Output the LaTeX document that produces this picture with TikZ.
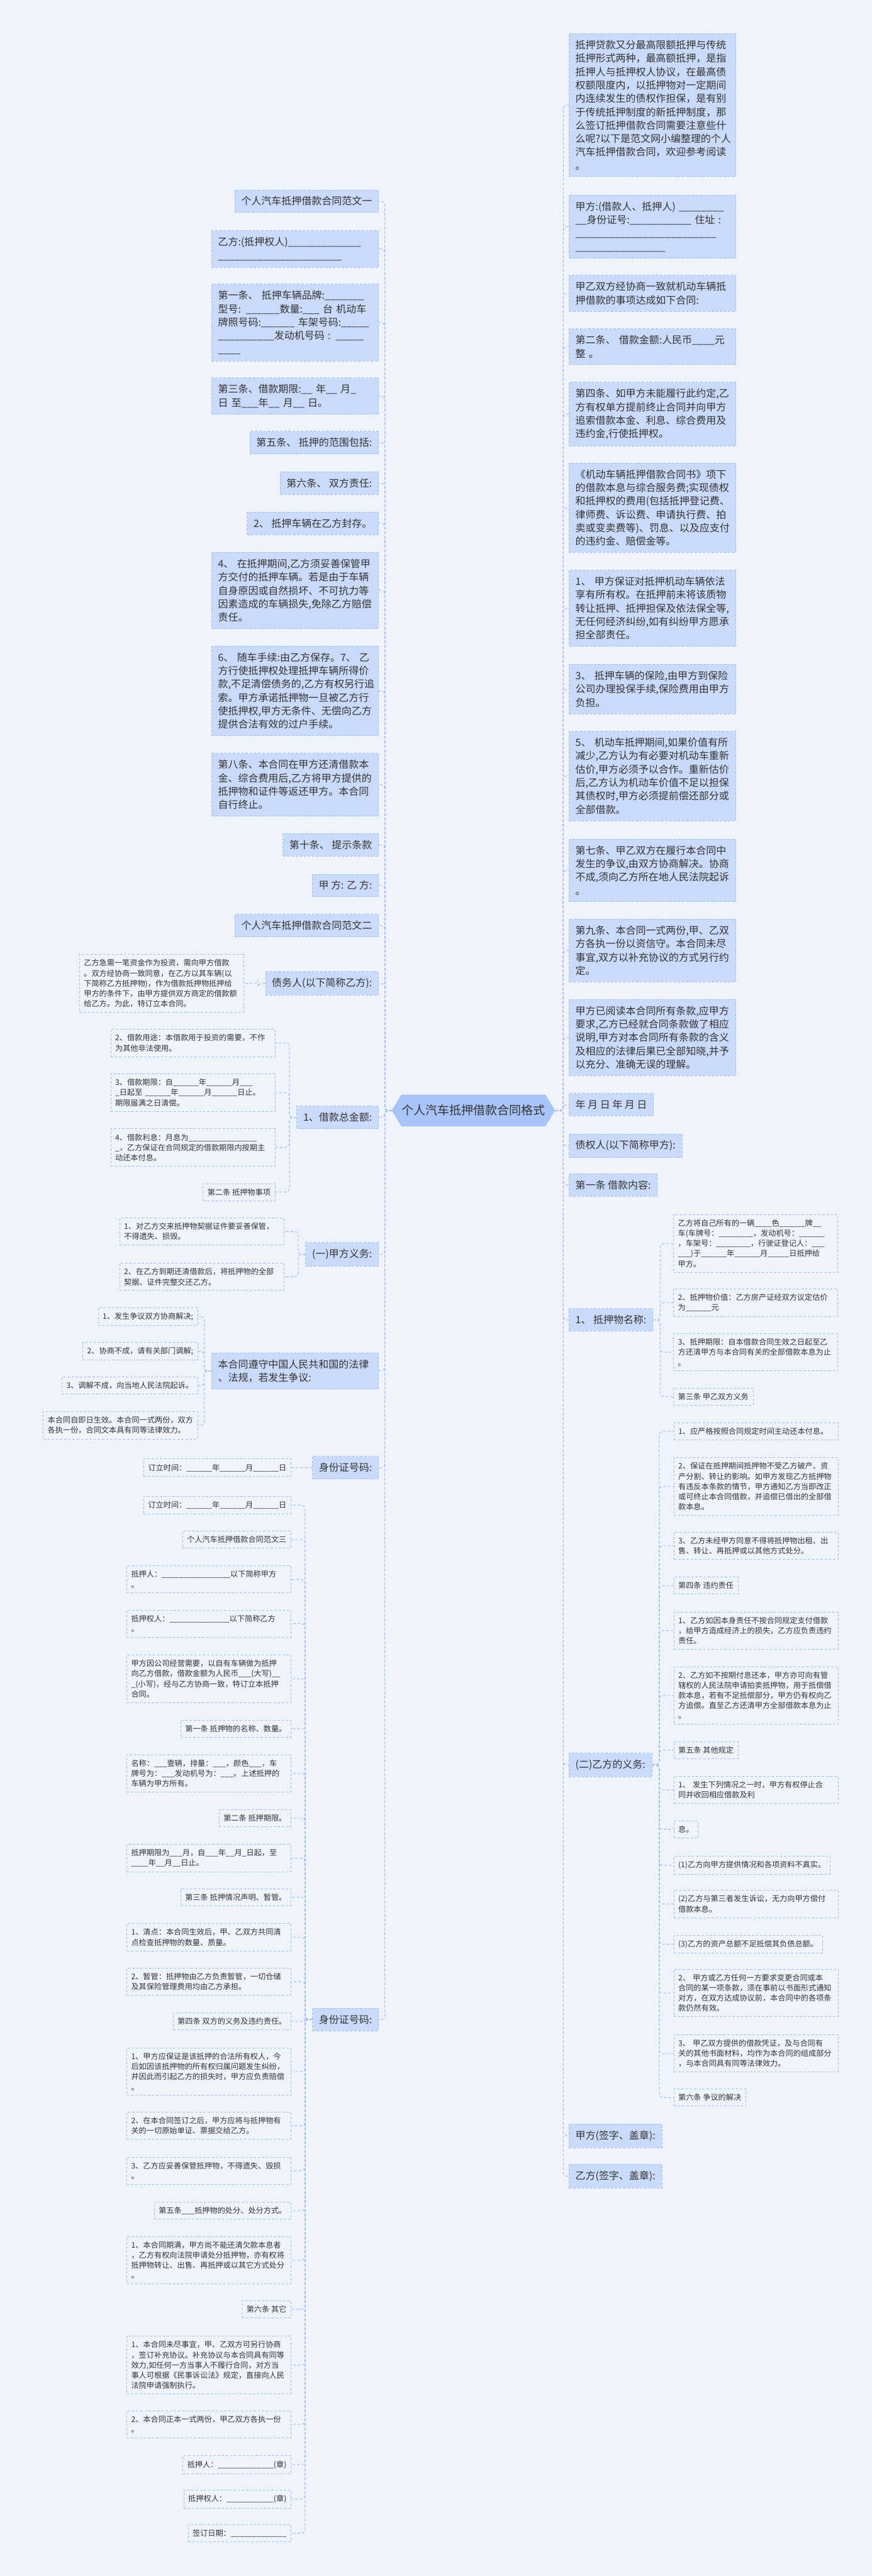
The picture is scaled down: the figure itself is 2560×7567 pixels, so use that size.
\documentclass[tikz,border=0pt]{standalone}
\usepackage{fontspec}
\setmainfont{Noto Sans CJK SC}
\usepackage{xcolor}
\usetikzlibrary{positioning,shapes.symbols}

\definecolor{pagebg}{HTML}{EEF3FC}
\definecolor{topicfill}{HTML}{CADAFA}
\definecolor{rootfill}{HTML}{A9C4F8}
\definecolor{edgeblue}{HTML}{A4BCF0}
\definecolor{ink}{HTML}{333333}

\newcommand{\fsroot}{\fontsize{10pt}{12pt}\selectfont}
\newcommand{\fsbig}{\fontsize{8.4pt}{11.2pt}\selectfont}
\newcommand{\fssmall}{\fontsize{6.4pt}{8.5pt}\selectfont}
\newcommand{\blank}[1]{\foreach \k in {1,...,#1}{\_}}

\begin{document}
\begin{tikzpicture}[x=0.1mm,y=-0.1mm]
	\tikzstyle{topic}
	  =[draw=edgeblue, dash pattern=on 2pt off 1.5pt, line width=0.4pt,
	  fill=topicfill, text=ink, font=\fsbig, inner xsep=1.9mm,
	  inner ysep=1.95mm, align=left]
	\tikzstyle{topicwide}
	  =[topic, text width=45.2mm]

	\tikzstyle{leaf}
	  =[draw=edgeblue, dash pattern=on 2pt off 1.5pt, line width=0.4pt,
	  text=ink, font=\fssmall, inner xsep=1.3mm, inner ysep=1.45mm,
	  align=left]
	\tikzstyle{leafwide}
	  =[leaf, text width=45.6mm]

	\tikzstyle{rootbox}
	  =[shape=signal, signal to=west and east, signal pointer angle=118,
	  fill=rootfill, draw=edgeblue, text=ink, font=\fsroot,
	  inner xsep=0pt, inner ysep=2.95mm]
	\tikzstyle{branch}
	  =[draw=edgeblue, dash pattern=on 2.2pt off 1.6pt, line width=0.55pt,
	  rounded corners=1mm]

	\fill[pagebg] (0,0) rectangle (2560,7567);
	\useasboundingbox (0,0) rectangle (2560,7567);

	\node[rootbox] (root)
	  at (1390,3262) {个人汽车抵押借款合同格式};

	% left side
	\node[topic, anchor=north east] (L1)
	  at (1112,557) {个人汽车抵押借款合同范文一};
	\node[topicwide, anchor=north east] (L2)
	  at (1112,677) {乙方:(抵押权人)\blank{13}\\\blank{22}};
	\node[topicwide, anchor=north east] (L3)
	  at (1112,834) {第一条、 抵押车辆品牌:\blank{7}\\型号: \blank{6}数量:\blank{3} 台 机动车\\牌照号码:\blank{6} 车架号码:\blank{5}\\\blank{10}发动机号码 : \blank{5}\\\blank{4}};
	\node[topicwide, anchor=north east] (L4)
	  at (1112,1109) {第三条、借款期限:\blank{2} 年\blank{2} 月\blank{1}\\日 至\blank{3}年\blank{2} 月\blank{2} 日。};
	\node[topic, anchor=north east] (L5)
	  at (1112,1266) {第五条、 抵押的范围包括:};
	\node[topic, anchor=north east] (L6)
	  at (1112,1385) {第六条、 双方责任:};
	\node[topic, anchor=north east] (L7)
	  at (1112,1503) {2、  抵押车辆在乙方封存。};
	\node[topicwide, anchor=north east] (L8)
	  at (1112,1622) {4、 在抵押期间,乙方须妥善保管甲\\方交付的抵押车辆。若是由于车辆\\自身原因或自然损坏、不可抗力等\\因素造成的车辆损失,免除乙方赔偿\\责任。};
	\node[topicwide, anchor=north east] (L9)
	  at (1112,1897) {6、 随车手续:由乙方保存。7、 乙\\方行使抵押权处理抵押车辆所得价\\款,不足清偿债务的,乙方有权另行追\\索。甲方承诺抵押物一旦被乙方行\\使抵押权,甲方无条件、无偿向乙方\\提供合法有效的过户手续。};
	\node[topicwide, anchor=north east] (L10)
	  at (1112,2212) {第八条、本合同在甲方还清借款本\\金、综合费用后,乙方将甲方提供的\\抵押物和证件等返还甲方。本合同\\自行终止。};
	\node[topic, anchor=north east] (L11)
	  at (1112,2448) {第十条、 提示条款};
	\node[topic, anchor=north east] (L12)
	  at (1112,2567) {甲 方: 乙 方:};
	\node[topic, anchor=north east] (L13)
	  at (1112,2685) {个人汽车抵押借款合同范文二};
	\node[topic, anchor=north east] (L14)
	  at (1112,2853) {债务人(以下简称乙方):};
	\node[topic, anchor=north east] (L15)
	  at (1112,3248) {1、借款总金额:};
	\node[topic, anchor=north east] (L16)
	  at (1112,3649) {(一)甲方义务:};
	\node[topicwide, anchor=north east] (L17)
	  at (1112,3973) {本合同遵守中国人民共和国的法律\\、法规，若发生争议:};
	\node[topic, anchor=north east] (L18)
	  at (1112,4277) {身份证号码:};
	\node[topic, anchor=north east] (L19)
	  at (1112,5898) {身份证号码:};

	\node[leafwide, anchor=north east] (L14a)
	  at (716,2803) {乙方急需一笔资金作为投资，需向甲方借款\\。双方经协商一致同意，在乙方以其车辆(以\\下简称乙方抵押物)，作为借款抵押物抵押给\\甲方的条件下，由甲方提供双方商定的借款额\\给乙方。为此，特订立本合同。};

	\node[leafwide, anchor=north east] (L15a)
	  at (808,3023) {2、借款用途：本借款用于投资的需要，不作\\为其他非法使用。};
	\node[leafwide, anchor=north east] (L15b)
	  at (808,3154) {3、借款期限：自\blank{6}年\blank{6}月\blank{3}\\\blank{1}日起至 \blank{6}年\blank{6}月\blank{6}日止。\\期限届满之日清偿。};
	\node[leafwide, anchor=north east] (L15c)
	  at (808,3315) {4、借款利息：月息为\blank{16}\\\blank{1}，乙方保证在合同规定的借款期限内按期主\\动还本付息。};
	\node[leaf, anchor=north east] (L15d)
	  at (808,3476) {第二条 抵押物事项};

	\node[leafwide, anchor=north east] (L16a)
	  at (834,3577) {1、对乙方交来抵押物契据证件要妥善保管，\\不得遗失、损毁。};
	\node[leafwide, anchor=north east] (L16b)
	  at (834,3710) {2、在乙方到期还清借款后，将抵押物的全部\\契据、证件完整交还乙方。};

	\node[leaf, anchor=north east] (L17a)
	  at (581,3840) {1、发生争议双方协商解决;};
	\node[leaf, anchor=north east] (L17b)
	  at (581,3942) {2、协商不成，请有关部门调解;};
	\node[leaf, anchor=north east] (L17c)
	  at (581,4044) {3、调解不成，向当地人民法院起诉。};
	\node[leaf, anchor=north east] (L17d)
	  at (581,4146) {本合同自即日生效。本合同一式两份，双方\\各执一份，合同文本具有同等法律效力。};

	\node[leaf, anchor=north east] (L18a)
	  at (855,4285) {订立时间：\blank{6}年\blank{6}月\blank{6}日};

	\node[leaf, anchor=north east] (L19a)
	  at (855,4395) {订立时间：\blank{6}年\blank{6}月\blank{6}日};
	\node[leaf, anchor=north east] (L19b)
	  at (855,4497) {个人汽车抵押借款合同范文三};
	\node[leafwide, anchor=north east] (L19c)
	  at (855,4599) {抵押人：\blank{16}以下简称甲方\\。};
	\node[leafwide, anchor=north east] (L19d)
	  at (855,4729) {抵押权人：\blank{14}以下简称乙方\\。};
	\node[leafwide, anchor=north east] (L19e)
	  at (855,4861) {甲方因公司经营需要，以自有车辆做为抵押\\向乙方借款，借款金额为人民币\blank{3}(大写)\blank{2}\\\blank{1}(小写)，经与乙方协商一致，特订立本抵押\\合同。};
	\node[leaf, anchor=north east] (L19f)
	  at (855,5052) {第一条 抵押物的名称、数量。};
	\node[leafwide, anchor=north east] (L19g)
	  at (855,5154) {名称：\blank{3}壹辆，排量：\blank{3}，颜色\blank{3}，车\\牌号为：\blank{3}发动机号为：\blank{3}。上述抵押的\\车辆为甲方所有。};
	\node[leaf, anchor=north east] (L19h)
	  at (855,5315) {第二条 抵押期限。};
	\node[leafwide, anchor=north east] (L19i)
	  at (855,5417) {抵押期限为\blank{3}月，自\blank{3}年\blank{2}月\blank{1}日起，至\\\blank{4}年\blank{2}月\blank{2}日止。};
	\node[leaf, anchor=north east] (L19j)
	  at (855,5547) {第三条 抵押情况声明、暂管。};
	\node[leafwide, anchor=north east] (L19k)
	  at (855,5650) {1、清点：本合同生效后，甲、乙双方共同清\\点检查抵押物的数量、质量。};
	\node[leafwide, anchor=north east] (L19l)
	  at (855,5781) {2、暂管：抵押物由乙方负责暂管，一切仓储\\及其保险管理费用均由乙方承担。};
	\node[leaf, anchor=north east] (L19m)
	  at (855,5912) {第四条 双方的义务及违约责任。};
	\node[leafwide, anchor=north east] (L19n)
	  at (855,6015) {1、甲方应保证是该抵押的合法所有权人，今\\后如因该抵押物的所有权归属问题发生纠纷，\\并因此而引起乙方的损失时，甲方应负责赔偿\\。};
	\node[leafwide, anchor=north east] (L19o)
	  at (855,6204) {2、在本合同签订之后，甲方应将与抵押物有\\关的一切原始单证、票据交给乙方。};
	\node[leafwide, anchor=north east] (L19p)
	  at (855,6336) {3、乙方应妥善保管抵押物，不得遗失、毁损\\。};
	\node[leaf, anchor=north east] (L19q)
	  at (855,6467) {第五条\blank{3}抵押物的处分、处分方式。};
	\node[leafwide, anchor=north east] (L19r)
	  at (855,6569) {1、本合同期满，甲方尚不能还清欠款本息者\\，乙方有权向法院申请处分抵押物，亦有权将\\抵押物转让、出售、再抵押或以其它方式处分\\。};
	\node[leaf, anchor=north east] (L19s)
	  at (855,6758) {第六条 其它};
	\node[leafwide, anchor=north east] (L19t)
	  at (855,6862) {1、本合同未尽事宜，甲、乙双方可另行协商\\，签订补充协议。补充协议与本合同具有同等\\效力,如任何一方当事人不履行合同，对方当\\事人可根据《民事诉讼法》规定，直接向人民\\法院申请强制执行。};
	\node[leafwide, anchor=north east] (L19u)
	  at (855,7081) {2、本合同正本一式两份，甲乙双方各执一份\\。};
	\node[leaf, anchor=north east] (L19v)
	  at (855,7213) {抵押人：\blank{13}(章)};
	\node[leaf, anchor=north east] (L19w)
	  at (855,7314) {抵押权人：\blank{11}(章)};
	\node[leaf, anchor=north east] (L19x)
	  at (855,7415) {签订日期：\blank{13}};

	% right side
	\node[topicwide, anchor=north west] (R1)
	  at (1670,98) {抵押贷款又分最高限额抵押与传统\\抵押形式两种，最高额抵押，是指\\抵押人与抵押权人协议，在最高债\\权额限度内，以抵押物对一定期间\\内连续发生的债权作担保，是有别\\于传统抵押制度的新抵押制度，那\\么签订抵押借款合同需要注意些什\\么呢?以下是范文网小编整理的个人\\汽车抵押借款合同，欢迎参考阅读\\。};
	\node[topicwide, anchor=north west] (R2)
	  at (1670,572) {甲方:(借款人、抵押人) \blank{8}\\\blank{2}身份证号:\blank{11} 住址 :\\\blank{25}\\\blank{16}};
	\node[topicwide, anchor=north west] (R3)
	  at (1670,808) {甲乙双方经协商一致就机动车辆抵\\押借款的事项达成如下合同:};
	\node[topicwide, anchor=north west] (R4)
	  at (1670,965) {第二条、 借款金额:人民币\blank{4}元\\整 。};
	\node[topicwide, anchor=north west] (R5)
	  at (1670,1122) {第四条、如甲方未能履行此约定,乙\\方有权单方提前终止合同并向甲方\\追索借款本金、利息、综合费用及\\违约金,行使抵押权。};
	\node[topicwide, anchor=north west] (R6)
	  at (1670,1359) {《机动车辆抵押借款合同书》项下\\的借款本息与综合服务费;实现债权\\和抵押权的费用(包括抵押登记费、\\律师费、诉讼费、申请执行费、拍\\卖或变卖费等)、罚息、以及应支付\\的违约金、赔偿金等。};
	\node[topicwide, anchor=north west] (R7)
	  at (1670,1674) {1、 甲方保证对抵押机动车辆依法\\享有所有权。在抵押前未将该质物\\转让抵押、抵押担保及依法保全等,\\无任何经济纠纷,如有纠纷甲方愿承\\担全部责任。};
	\node[topicwide, anchor=north west] (R8)
	  at (1670,1951) {3、 抵押车辆的保险,由甲方到保险\\公司办理投保手续,保险费用由甲方\\负担。};
	\node[topicwide, anchor=north west] (R9)
	  at (1670,2147) {5、 机动车抵押期间,如果价值有所\\减少,乙方认为有必要对机动车重新\\估价,甲方必须予以合作。重新估价\\后,乙方认为机动车价值不足以担保\\其债权时,甲方必须提前偿还部分或\\全部借款。};
	\node[topicwide, anchor=north west] (R10)
	  at (1670,2464) {第七条、甲乙双方在履行本合同中\\发生的争议,由双方协商解决。协商\\不成,须向乙方所在地人民法院起诉\\。};
	\node[topicwide, anchor=north west] (R11)
	  at (1670,2699) {第九条、本合同一式两份,甲、乙双\\方各执一份以资信守。本合同未尽\\事宜,双方以补充协议的方式另行约\\定。};
	\node[topicwide, anchor=north west] (R12)
	  at (1670,2935) {甲方已阅读本合同所有条款,应甲方\\要求,乙方已经就合同条款做了相应\\说明,甲方对本合同所有条款的含义\\及相应的法律后果已全部知晓,并予\\以充分、准确无误的理解。};
	\node[topic, anchor=north west] (R13)
	  at (1670,3211) {年 月 日 年 月 日};
	\node[topic, anchor=north west] (R14)
	  at (1670,3330) {债权人(以下简称甲方):};
	\node[topic, anchor=north west] (R15)
	  at (1670,3447) {第一条 借款内容:};
	\node[topic, anchor=north west] (R16)
	  at (1670,3843) {1、 抵押物名称:};
	\node[topic, anchor=north west] (R17)
	  at (1670,5149) {(二)乙方的义务:};
	\node[topic, anchor=north west] (R18)
	  at (1670,6238) {甲方(签字、盖章):};
	\node[topic, anchor=north west] (R19)
	  at (1670,6357) {乙方(签字、盖章):};

	\node[leafwide, anchor=north west] (R16a)
	  at (1977,3567) {乙方将自己所有的一辆\blank{4}色\blank{6}牌\blank{2}\\车(车牌号：\blank{8}，发动机号：\blank{6}\\，车架号：\blank{8}，行驶证登记人：\blank{3}\\\blank{3})于\blank{6}年\blank{6}月\blank{5}日抵押给\\甲方。};
	\node[leafwide, anchor=north west] (R16b)
	  at (1977,3785) {2、抵押物价值：乙方房产证经双方议定估价\\为\blank{6}元};
	\node[leafwide, anchor=north west] (R16c)
	  at (1977,3917) {3、抵押期限：自本借款合同生效之日起至乙\\方还清甲方与本合同有关的全部借款本息为止\\。};
	\node[leaf, anchor=north west] (R16d)
	  at (1977,4077) {第三条 甲乙双方义务};

	\node[leafwide, anchor=north west] (R17a)
	  at (1978,4179) {1、应严格按照合同规定时间主动还本付息。};
	\node[leafwide, anchor=north west] (R17b)
	  at (1978,4281) {2、保证在抵押期间抵押物不受乙方破产、资\\产分割、转让的影响。如甲方发现乙方抵押物\\有违反本条款的情节，甲方通知乙方当即改正\\或可终止本合同借款，并追偿已借出的全部借\\款本息。};
	\node[leafwide, anchor=north west] (R17c)
	  at (1978,4500) {3、乙方未经甲方同意不得将抵押物出租、出\\售、转让、再抵押或以其他方式处分。};
	\node[leaf, anchor=north west] (R17d)
	  at (1978,4632) {第四条 违约责任};
	\node[leafwide, anchor=north west] (R17e)
	  at (1978,4734) {1、乙方如因本身责任不按合同规定支付借款\\，给甲方造成经济上的损失，乙方应负责违约\\责任。};
	\node[leafwide, anchor=north west] (R17f)
	  at (1978,4895) {2、乙方如不按期付息还本，甲方亦可向有管\\辖权的人民法院申请拍卖抵押物，用于抵偿借\\款本息，若有不足抵偿部分，甲方仍有权向乙\\方追偿。直至乙方还清甲方全部借款本息为止\\。};
	\node[leaf, anchor=north west] (R17g)
	  at (1978,5115) {第五条 其他规定};
	\node[leafwide, anchor=north west] (R17h)
	  at (1978,5217) {1、 发生下列情况之一时，甲方有权停止合\\同并收回相应借款及利};
	\node[leaf, anchor=north west] (R17i)
	  at (1978,5348) {息。};
	\node[leaf, anchor=north west] (R17j)
	  at (1978,5452) {(1)乙方向甲方提供情况和各项资料不真实。};
	\node[leafwide, anchor=north west] (R17k)
	  at (1978,5552) {(2)乙方与第三者发生诉讼，无力向甲方偿付\\借款本息。};
	\node[leaf, anchor=north west] (R17l)
	  at (1978,5684) {(3)乙方的资产总额不足抵偿其负债总额。};
	\node[leafwide, anchor=north west] (R17m)
	  at (1978,5784) {2、 甲方或乙方任何一方要求变更合同或本\\合同的某一项条款，须在事前以书面形式通知\\对方，在双方达成协议前，本合同中的各项条\\款仍然有效。};
	\node[leafwide, anchor=north west] (R17n)
	  at (1978,5976) {3、 甲乙双方提供的借款凭证，及与合同有\\关的其他书面材料，均作为本合同的组成部分\\，与本合同具有同等法律效力。};
	\node[leaf, anchor=north west] (R17o)
	  at (1978,6136) {第六条 争议的解决};

	% connectors
	\foreach \i in {1,...,19}
	  \draw[branch] (root.west) -- ++(-21,0) |- (L\i.east);
	\foreach \i in {1,...,19}
	  \draw[branch] (root.east) -- ++(25,0) |- (R\i.west);

	\draw[branch] (L14.west) -- ++(-21,0) |- (L14a.east);
	\foreach \c in {a,...,d}
	  \draw[branch] (L15.west) -- ++(-21,0) |- (L15\c.east);
	\foreach \c in {a,b}
	  \draw[branch] (L16.west) -- ++(-21,0) |- (L16\c.east);
	\foreach \c in {a,...,d}
	  \draw[branch] (L17.west) -- ++(-21,0) |- (L17\c.east);
	\draw[branch] (L18.west) -- (L18a.east);
	\foreach \c in {a,...,x}
	  \draw[branch] (L19.west) -- ++(-21,0) |- (L19\c.east);

	\foreach \c in {a,...,d}
	  \draw[branch] (R16.east) -- ++(21,0) |- (R16\c.west);
	\foreach \c in {a,...,o}
	  \draw[branch] (R17.east) -- ++(21,0) |- (R17\c.west);
\end{tikzpicture}
\end{document}
